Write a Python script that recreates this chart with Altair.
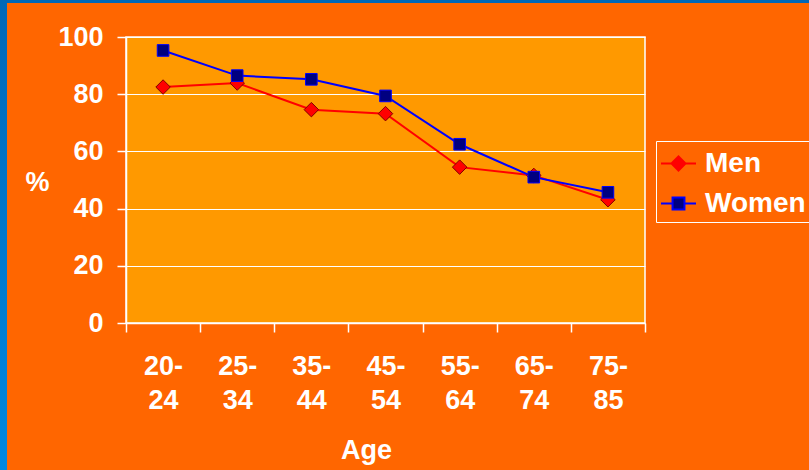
import altair as alt
import pandas as pd

# Participation by age group (%)
ages = ["20-24", "25-34", "35-44", "45-54", "55-64", "65-74", "75-85"]
men = [82.5, 83.9, 74.6, 73.2, 54.5, 51.6, 43.1]
women = [95.3, 86.5, 85.2, 79.4, 62.5, 51.0, 45.7]
series_names = ["Men", "Women"]
y_ticks = [0, 20, 40, 60, 80, 100]

line_colors = ["#FF0000", "#0000FF"]
marker_fills = ["#FF0000", "#000080"]
marker_strokes = ["#800000", "#0000FF"]
# legend symbols: a short line segment through the marker
legend_paths = [
    "M-1,0L-0.4,0M0.4,0L1,0M-0.4,0L0,-0.4L0.4,0L0,0.4Z",
    "M-1,0L-0.34,0M0.34,0L1,0M-0.34,-0.34L0.34,-0.34L0.34,0.34L-0.34,0.34Z",
]

rows = []
for name, vals in zip(series_names, [men, women]):
    for a, v in zip(ages, vals):
        rows.append({"Age": a, "Series": name, "Value": v})
df = pd.DataFrame(rows)

FONT = "Liberation Sans"
WHITE = "#FFFFFF"

x = alt.X(
    "Age:N",
    sort=ages,
    scale=alt.Scale(type="band", domain=ages, paddingInner=0, paddingOuter=0),
    axis=alt.Axis(
        title="Age",
        tickBand="extent",
        labelAngle=0,
        labelExpr=(
            "length(datum.label) > 0 ? "
            "[split(datum.label, '-')[0] + '-', split(datum.label, '-')[1]] : ''"
        ),
        labelLineHeight=34,
        labelPadding=21,
        tickSize=9,
        titleX=240,
        titleY=127,
        titleAlign="center",
        titleBaseline="middle",
        grid=False,
    ),
)
y = alt.Y(
    "Value:Q",
    scale=alt.Scale(domain=[0, 100]),
    axis=alt.Axis(
        values=y_ticks,
        title="%",
        titleAngle=0,
        titleX=-89,
        titleY=145,
        titleAlign="center",
        titleBaseline="middle",
        tickSize=9,
        labelPadding=14,
        grid=True,
    ),
)

base = alt.Chart(df)

lines = base.mark_line(strokeWidth=2).encode(
    x=x,
    y=y,
    color=alt.Color(
        "Series:N",
        scale=alt.Scale(domain=series_names, range=line_colors),
        legend=None,
    ),
)

men_pts = base.transform_filter(alt.datum.Series == "Men").mark_point(
    shape="diamond", filled=True, fill=marker_fills[0], stroke=marker_strokes[0],
    strokeWidth=1, size=210, opacity=1,
).encode(x=x, y=y)

women_pts = base.transform_filter(alt.datum.Series == "Women").mark_point(
    shape="square", filled=True, fill=marker_fills[1], stroke=marker_strokes[1],
    strokeWidth=1, size=135, opacity=1,
).encode(x=x, y=y)

legend_layer = base.mark_point(filled=True, opacity=0, size=1225).encode(
    x=x,
    y=y,
    shape=alt.Shape(
        "Series:N",
        scale=alt.Scale(domain=series_names, range=legend_paths),
        legend=alt.Legend(
            orient="none",
            legendX=530,
            legendY=104,
            title=None,
            labelFont=FONT,
            labelFontSize=28,
            labelFontWeight="bold",
            labelColor=WHITE,
            labelOffset=8,
            symbolSize=1225,
            symbolStrokeWidth=2,
            symbolOpacity=1,
            strokeColor=WHITE,
            padding=4,
            rowPadding=7,
        ),
    ),
    fill=alt.Fill("Series:N", scale=alt.Scale(domain=series_names, range=marker_fills)),
    stroke=alt.Stroke("Series:N", scale=alt.Scale(domain=series_names, range=line_colors)),
)

# blue slide frame on the left and top edges
frame_df = pd.DataFrame({"k": [0]})
stripe_grad = alt.Gradient(
    gradient="linear",
    stops=[alt.GradientStop(color="#0068B8", offset=0),
           alt.GradientStop(color="#0088E0", offset=1)],
    x1=0, x2=0, y1=0, y2=1,
)
left_stripe = alt.Chart(frame_df).mark_rect(color=stripe_grad).encode(
    x=alt.value(-126), x2=alt.value(-119), y=alt.value(-37), y2=alt.value(433)
)
top_stripe = alt.Chart(frame_df).mark_rect(color="#0068B8").encode(
    x=alt.value(-126), x2=alt.value(683), y=alt.value(-37), y2=alt.value(-34)
)

chart = (
    alt.layer(left_stripe, top_stripe, lines, men_pts, women_pts, legend_layer)
    .resolve_scale(color="independent")
    .properties(
        width=519,
        height=286,
        autosize=alt.AutoSizeParams(type="none"),
        padding={"left": 126, "top": 37, "right": 164, "bottom": 147},
        background="#FF6600",
    )
    .configure_view(fill="#FF9900", stroke=WHITE, strokeWidth=1.5)
    .configure_axis(
        labelFont=FONT,
        labelFontSize=27,
        labelFontWeight="bold",
        labelColor=WHITE,
        titleFont=FONT,
        titleFontSize=27,
        titleFontWeight="bold",
        titleColor=WHITE,
        domainColor=WHITE,
        domainWidth=1.5,
        tickColor=WHITE,
        tickWidth=1.5,
        gridColor=WHITE,
        gridWidth=1.2,
        gridOpacity=1,
    )
)

chart.save("out.html", embed_options={"renderer": "svg", "actions": False})
